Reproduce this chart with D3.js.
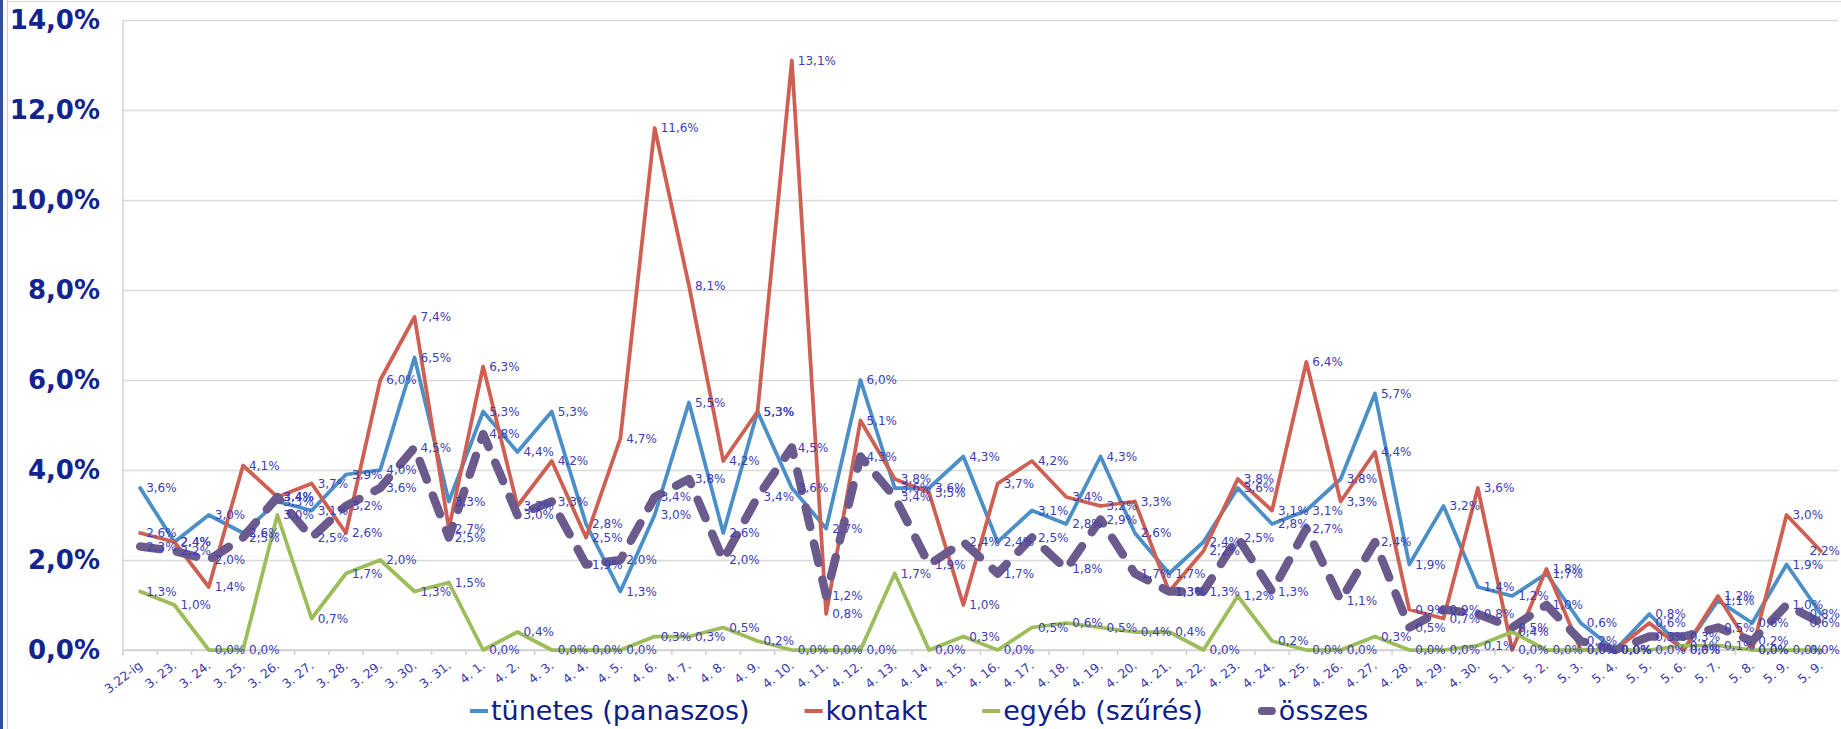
<!DOCTYPE html>
<html>
<head>
<meta charset="utf-8">
<script src="https://cdn.jsdelivr.net/npm/d3@7"></script>
<style>
  html, body { margin: 0; padding: 0; background: #fff; }
  svg { display: block; }
</style>
</head>
<body>
<div id="chart"></div>
<script>
// Categories (days)
var categories = ["3.22-ig", "3. 23.", "3. 24.", "3. 25.", "3. 26.", "3. 27.", "3. 28.", "3. 29.", "3. 30.", "3. 31.",
    "4. 1.", "4. 2.", "4. 3.", "4. 4.", "4. 5.", "4. 6.", "4. 7.", "4. 8.", "4. 9.", "4. 10.",
    "4. 11.", "4. 12.", "4. 13.", "4. 14.", "4. 15.", "4. 16.", "4. 17.", "4. 18.", "4. 19.", "4. 20.",
    "4. 21.", "4. 22.", "4. 23.", "4. 24.", "4. 25.", "4. 26.", "4. 27.", "4. 28.", "4. 29.", "4. 30.",
    "5. 1.", "5. 2.", "5. 3.", "5. 4.", "5. 5.", "5. 6.", "5. 7.", "5. 8.", "5. 9.", "5. 9. "];

// Series values in percent
var tunetes = [3.6, 2.4, 3.0, 2.6, 3.3, 3.1, 3.9, 4.0, 6.5, 3.3,
    5.3, 4.4, 5.3, 2.8, 1.3, 3.0, 5.5, 2.6, 5.3, 3.6,
    2.7, 6.0, 3.6, 3.6, 4.3, 2.4, 3.1, 2.8, 4.3, 2.6,
    1.7, 2.4, 3.6, 2.8, 3.1, 3.8, 5.7, 1.9, 3.2, 1.4,
    1.2, 1.7, 0.6, 0.0, 0.8, 0.0, 1.1, 0.6, 1.9, 0.8];

var kontakt = [2.6, 2.4, 1.4, 4.1, 3.4, 3.7, 2.6, 6.0, 7.4, 2.7,
    6.3, 3.2, 4.2, 2.5, 4.7, 11.6, 8.1, 4.2, 5.3, 13.1,
    0.8, 5.1, 3.8, 3.5, 1.0, 3.7, 4.2, 3.4, 3.2, 3.3,
    1.3, 2.2, 3.8, 3.1, 6.4, 3.3, 4.4, 0.9, 0.7, 3.6,
    0.0, 1.8, 0.0, 0.0, 0.6, 0.0, 1.2, 0.0, 3.0, 2.2];

var egyeb = [1.3, 1.0, 0.0, 0.0, 3.0, 0.7, 1.7, 2.0, 1.3, 1.5,
    0.0, 0.4, 0.0, 0.0, 0.0, 0.3, 0.3, 0.5, 0.2, 0.0,
    0.0, 0.0, 1.7, 0.0, 0.3, 0.0, 0.5, 0.6, 0.5, 0.4,
    0.4, 0.0, 1.2, 0.2, 0.0, 0.0, 0.3, 0.0, 0.0, 0.1,
    0.4, 0.0, 0.0, 0.0, 0.0, 0.1, 0.1, 0.0, 0.0, 0.0];

var osszes = [2.3, 2.2, 2.0, 2.5, 3.4, 2.5, 3.2, 3.6, 4.5, 2.5,
    4.8, 3.0, 3.3, 1.9, 2.0, 3.4, 3.8, 2.0, 3.4, 4.5,
    1.2, 4.3, 3.4, 1.9, 2.4, 1.7, 2.5, 1.8, 2.9, 1.7,
    1.3, 1.3, 2.5, 1.3, 2.7, 1.1, 2.4, 0.5, 0.9, 0.8,
    0.5, 1.0, 0.2, 0.0, 0.3, 0.3, 0.5, 0.2, 1.0, 0.6];

var seriesNames = ["tünetes (panaszos)", "kontakt", "egyéb (szűrés)", "összes"];

// Y axis tick values (percent)
var yTicks = [0, 2, 4, 6, 8, 10, 12, 14];

var width = 1841;
var height = 729;
var margin = { top: 20, right: 3, bottom: 79, left: 123 };

var huLocale = d3.formatLocale({ decimal: ",", thousands: " ", grouping: [3], currency: ["", ""] });
var fmt = huLocale.format(".1f");

var svg = d3.select("#chart").append("svg")
    .attr("width", width)
    .attr("height", height);

svg.append("rect").attr("width", width).attr("height", height).attr("fill", "#fff");

// frame bits at left / top
svg.append("rect").attr("x", 0).attr("y", 0).attr("width", 3).attr("height", height).attr("fill", "#2f4d9e");
svg.append("line").attr("x1", 7.5).attr("x2", 7.5).attr("y1", 0).attr("y2", height)
    .attr("stroke", "#cfcfcf").attr("stroke-width", 1);
svg.append("line").attr("x1", 7).attr("x2", width).attr("y1", 1.5).attr("y2", 1.5)
    .attr("stroke", "#d6d6d6").attr("stroke-width", 1);

var x = d3.scaleBand()
    .domain(categories)
    .range([margin.left, width - margin.right]);

var y = d3.scaleLinear()
    .domain([0, 14])
    .range([height - margin.bottom, margin.top]);

// Gridlines
svg.append("g")
    .attr("class", "grid")
    .attr("transform", "translate(" + margin.left + ",0)")
    .call(d3.axisLeft(y).tickValues(yTicks).tickSize(-(width - margin.right - margin.left)).tickFormat(""))
    .call(g => g.select(".domain").remove())
    .call(g => g.selectAll("line").attr("stroke", "#d9d9d9").attr("stroke-width", 1.5));

// Y axis labels
svg.append("g")
    .attr("transform", "translate(" + (margin.left - 23) + ",0)")
    .call(d3.axisLeft(y).tickValues(yTicks).tickSize(0).tickPadding(0).tickFormat(d => fmt(d) + "%"))
    .call(g => g.select(".domain").remove())
    .call(g => g.selectAll("text")
        .attr("fill", "#13238f")
        .style("font-family", "'DejaVu Sans', Verdana, sans-serif")
        .style("font-size", "26px")
        .style("font-weight", "bold"));

// vertical axis line
svg.append("line")
    .attr("x1", margin.left).attr("x2", margin.left)
    .attr("y1", y(14)).attr("y2", y(0) + 5)
    .attr("stroke", "#d0d0d0").attr("stroke-width", 1.5);

// x axis line and boundary ticks
var x0 = y(0);
svg.append("line")
    .attr("x1", margin.left).attr("x2", width - margin.right)
    .attr("y1", x0).attr("y2", x0)
    .attr("stroke", "#d0d0d0").attr("stroke-width", 1.5);

svg.append("g").selectAll("line")
    .data(categories)
    .enter().append("line")
    .attr("x1", d => x(d)).attr("x2", d => x(d))
    .attr("y1", x0).attr("y2", x0 + 5)
    .attr("stroke", "#d0d0d0").attr("stroke-width", 1.5);

// x labels
svg.append("g").selectAll("text")
    .data(categories)
    .enter().append("text")
    .attr("transform", d => "translate(" + (x(d) + x.bandwidth() / 2 + 3) + "," + (x0 + 17) + ") rotate(-38)")
    .attr("text-anchor", "end")
    .attr("fill", "#3a3ab0")
    .style("font-family", "'DejaVu Sans', Verdana, sans-serif")
    .style("font-size", "12.5px")
    .text(d => d.trim());

var cx = (d, i) => x(categories[i]) + x.bandwidth() / 2;

var line = d3.line()
    .x((d, i) => cx(d, i))
    .y(d => y(d));

var allSeries = [
    { name: seriesNames[0], values: tunetes, color: "#4b8fc9", width: 3.75, dash: null },
    { name: seriesNames[1], values: kontakt, color: "#cf5f52", width: 3.75, dash: null },
    { name: seriesNames[2], values: egyeb, color: "#9dbd5b", width: 3.75, dash: null },
    { name: seriesNames[3], values: osszes, color: "#6b5a8c", width: 8.5, dash: "20,17" }
];

// lines
allSeries.forEach(function (s) {
    svg.append("path")
        .datum(s.values)
        .attr("d", line)
        .attr("fill", "none")
        .attr("stroke", s.color)
        .attr("stroke-width", s.width)
        .attr("stroke-linejoin", "round")
        .attr("stroke-linecap", "round")
        .attr("stroke-dasharray", s.dash);
});

// data labels
allSeries.forEach(function (s) {
    svg.append("g").selectAll("text")
        .data(s.values)
        .enter().append("text")
        .attr("x", (d, i) => cx(d, i) + 6)
        .attr("y", d => y(d))
        .attr("dominant-baseline", "central")
        .attr("fill", "#3d3db5")
        .style("font-family", "'DejaVu Sans', Verdana, sans-serif")
        .style("font-size", "12px")
        .text(d => fmt(d) + "%")
        .each(function () {
            var w = this.getComputedTextLength();
            var tx = +this.getAttribute("x");
            if (tx + w > width - 1) this.setAttribute("x", width - 1 - w);
        });
});

// legend
var legend = svg.append("g").attr("class", "legend");
var lx = 470;
var ly = 720;
allSeries.forEach(function (s) {
    legend.append("line")
        .attr("x1", lx + (s.dash ? 4 : 0)).attr("x2", lx + 18 - (s.dash ? 4 : 0))
        .attr("y1", ly - 9).attr("y2", ly - 9)
        .attr("stroke", s.color)
        .attr("stroke-width", s.dash ? 8 : 4)
        .attr("stroke-linecap", s.dash ? "round" : "butt");
    var t = legend.append("text")
        .attr("x", lx + 21)
        .attr("y", ly)
        .attr("fill", "#0d1d8c")
        .style("font-family", "'DejaVu Sans', Verdana, sans-serif")
        .style("font-size", "27px")
        .text(s.name);
    lx = lx + 21 + t.node().getComputedTextLength() + 55;
});
</script>
</body>
</html>
